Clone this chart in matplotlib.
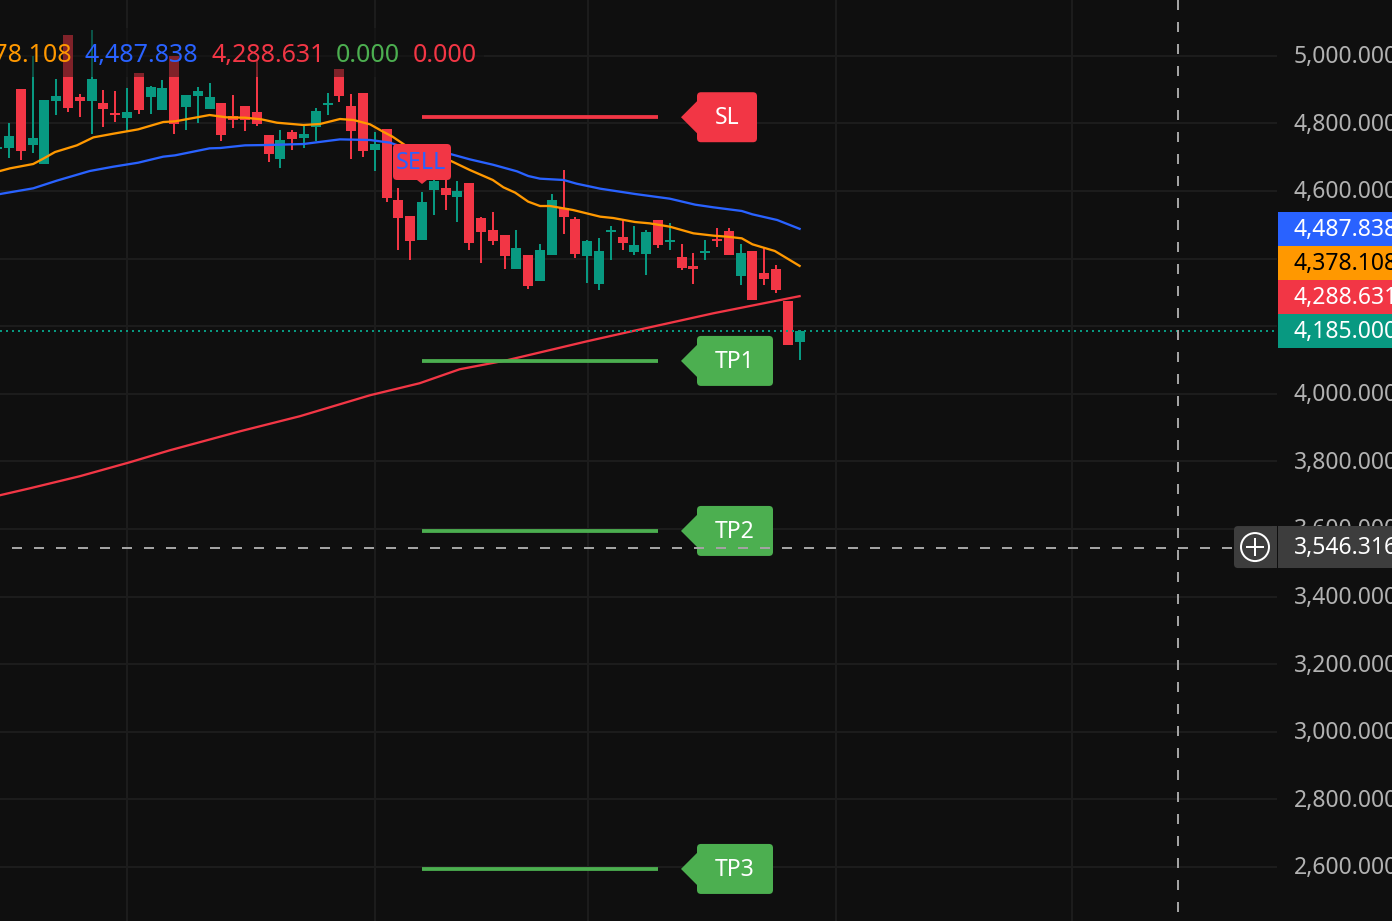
import numpy as np
import matplotlib
matplotlib.use("Agg")
import matplotlib.pyplot as plt
from matplotlib.patches import Rectangle, FancyBboxPatch, Polygon, Circle
from matplotlib.transforms import ScaledTranslation

plt.rcParams['font.family'] = ['Noto Sans', 'DejaVu Sans']

# ---------- data ----------
opens = [4725, 4727, 4901.5, 4735.8, 4679.6, 4866, 5061, 4877.8, 4866, 4860, 4830.5, 4815.7, 4948.8, 4877.8, 4839.3, 4999,
         4848.2, 4880.7, 4842.3, 4860, 4821.6, 4851.2, 4833.4, 4765.4, 4694.3, 4774.2, 4756.5, 4789, 4854, 4960.6, 4851.2,
         4889.6, 4721, 4783, 4573, 4525.8, 4454.8, 4602.7, 4608.6, 4582, 4623.4, 4519.8, 4484.3, 4469.5, 4369, 4410.4,
         4333.4, 4410.4, 4549.4, 4516.9, 4407.4, 4324.6, 4478.4, 4463.6, 4419.3, 4413.3, 4513.9, 4448.8, 4404.5, 4377.8,
         4416.3, 4457.7, 4481.4, 4348.2, 4422.2, 4357.1, 4369, 4274.3, 4153]
closes = [4730, 4762, 4718, 4756.5, 4869, 4881, 4845, 4866, 4931, 4842.3, 4824.5, 4833.4, 4839.3, 4907.4, 4904.4, 4797.9,
          4883.7, 4895.5, 4877.8, 4765.4, 4809.7, 4809.7, 4797.9, 4709.1, 4750.6, 4753.5, 4768.3, 4836.4, 4860, 4880.7, 4777.2,
          4718, 4738.7, 4579, 4519.9, 4451.8, 4567.2, 4629.3, 4587.9, 4599.7, 4445.9, 4478.4, 4451.8, 4407.4, 4431.1, 4318.7,
          4425.2, 4573, 4522.8, 4413.3, 4451.8, 4422.2, 4484.3, 4445.9, 4440, 4478.4, 4440, 4454.8, 4372, 4369,
          4422.2, 4451.8, 4410.4, 4416.3, 4277.2, 4339.4, 4306.8, 4144.1, 4185]
highs = [4730, 4801, 4902, 4999, 4869, 4931, 5061, 4886.7, 5076, 4898.5, 4895.6, 4904.4, 4949, 4910.3, 4928, 4999,
         4884, 4907.4, 4919.2, 4860, 4883.7, 4851, 4987.3, 4765, 4780.2, 4780, 4792, 4845.2, 4889.6, 4961, 4886.7,
         4890, 4774, 4783, 4608.6, 4526, 4596.8, 4647, 4632.3, 4629.3, 4623.4, 4522.8, 4537.6, 4470, 4484.3, 4410,
         4443, 4590.9, 4661.9, 4522.8, 4454.8, 4460.7, 4496.2, 4516.9, 4496.2, 4484.3, 4514, 4505, 4443, 4416.3,
         4454.8, 4490.3, 4490.3, 4443, 4422.2, 4431.1, 4380.8, 4274.3, 4189]
lows = [4725, 4697, 4691.4, 4712, 4680, 4824.5, 4833.4, 4818.6, 4768.3, 4789, 4803.8, 4777.2, 4827.5, 4827.5, 4839, 4768.3,
        4780.2, 4800.9, 4842, 4747.6, 4786.1, 4777.2, 4792, 4685.5, 4667.7, 4721, 4727, 4747.6, 4824.5, 4863, 4694.3,
        4700.3, 4658.8, 4567, 4425.2, 4395.6, 4455, 4528.7, 4543.5, 4508, 4425.2, 4386.7, 4440, 4369, 4369, 4309.8,
        4333, 4410, 4472.5, 4401.5, 4327.5, 4306.8, 4395.6, 4425.2, 4410.4, 4351.2, 4431.1, 4425.2, 4366, 4324.6,
        4395.6, 4434, 4410, 4321.6, 4277.2, 4321.6, 4298, 4144.1, 4099.7]
bar_index = np.arange(-1, len(opens) - 1)

ema_orange_x = [-0.76, 0.08, 2.05, 2.9, 3.9, 5.75, 7.15, 8.85, 10.95, 13.07, 14.07, 17, 18.45, 20, 21.4, 22.7, 24.95,
                26.35, 28.05, 29.2, 30.6, 31.7, 32.5, 33.55, 37.4, 39.05, 41, 41.9, 42.9, 44, 45, 45.85, 47.8, 50.1,
                51.2, 53.05, 54.3, 56, 58, 59.7, 60.85, 62.1, 63, 64.9, 67]
ema_orange_y = [4658.9, 4666.7, 4679.6, 4695.3, 4715, 4734.8, 4758.4, 4769.3, 4782.1, 4803.8, 4805.8, 4824.5, 4817.6,
                4816.6, 4811.7, 4801.8, 4795, 4797.9, 4812.7, 4809.7, 4796.9, 4775.2, 4760.5, 4735.8, 4689.5, 4661.9,
                4632.3, 4610.6, 4594.8, 4568.2, 4555.3, 4555.3, 4543.5, 4523.8, 4519.8, 4508, 4504, 4494.2, 4474.5,
                4467.6, 4464.6, 4459.7, 4442, 4422.2, 4378.1]
ema_blue_x = [-0.76, 2.05, 4.05, 6.85, 8.85, 10.95, 13.07, 14.07, 17, 17.9, 20, 21.85, 24.95, 28.05, 30.6, 32.3, 33.1,
              37.4, 39.05, 41, 43.05, 44, 45, 47, 48.1, 50.1, 53.05, 56, 58.15, 59.7, 62.1, 63, 65.1, 67]
ema_blue_y = [4590.8, 4607.6, 4630.3, 4658.9, 4671.7, 4683.5, 4701.3, 4705.2, 4725.9, 4726.9, 4734.8, 4735.8, 4738.7,
              4752.5, 4750.6, 4742.7, 4732.8, 4709.2, 4693.4, 4677.6, 4657.9, 4644.1, 4636.2, 4632.3, 4621.4, 4606.6,
              4590.9, 4577, 4559.3, 4551.4, 4540.6, 4530.7, 4513.9, 4487.8]
ema_red_x = [-0.76, 1.8, 6, 10.25, 13.65, 19.6, 24.65, 30.6, 34.8, 38.2, 42.2, 49, 52.4, 59.7, 67]
ema_red_y = [3699.7, 3720.4, 3755.9, 3797.3, 3832.8, 3889, 3933.4, 3995.5, 4031, 4072.4, 4099, 4155.2, 4181.8, 4238, 4288.6]

y_ticks = [2600, 2800, 3000, 3200, 3400, 3600, 3800, 4000, 4200, 4400, 4600, 4800, 5000]
x_grid = [10, 31, 49.07, 70.1, 90.1]
last_price = 4185.0
cross_price = 3546.316
cross_bar = 99.07

level_names = ['SL', 'TP1', 'TP2', 'TP3']
level_prices = [4818, 4097, 3594, 2594]
level_start, level_end = 35, 55

axis_labels = ['4,487.838', '4,378.108', '4,288.631', '4,185.000']
axis_label_pos = [4487.838, 4387.2, 4286.6, 4185.0]
legend_values = ['4,378.108', '4,487.838', '4,288.631', '0.000', '0.000']

# ---------- style ----------
BG = '#0f0f0f'
GRID = '#1c1c1c'
RED = '#f23645'
TEAL = '#089981'
ORANGE = '#ff9800'
BLUE = '#2962ff'
LGREEN = '#4caf50'
W, H = 1392, 921
PLOT_W = 1277
STEP = 11.8
X0 = 9.0
PX = 1.0 / 100 * 72  # points per pixel
YTOP, YBOT = 5164.8, 2440.0


def py(price):
    return (YTOP - price) / (YTOP - YBOT) * H


fig = plt.figure(figsize=(W / 100, H / 100), dpi=100, facecolor=BG)
ax = fig.add_axes([0, 0, PLOT_W / W, 1], facecolor=BG, zorder=1)
ax.set_xlim(-X0 / STEP, (PLOT_W - X0) / STEP)
ax.set_ylim(YBOT, YTOP)
for s in ax.spines.values():
    s.set_visible(False)

ax.yaxis.tick_right()
ax.set_yticks(y_ticks)
ax.set_yticklabels([f'{v:,.3f}' for v in y_ticks], fontsize=16.5, color='#b2b2b2')
ax.tick_params(axis='y', length=0, pad=17 * PX)
lift = ScaledTranslation(0, 1.5 / 100, fig.dpi_scale_trans)
for lbl in ax.get_yticklabels():
    lbl.set_transform(lbl.get_transform() + lift)
ax.set_xticks(x_grid)
ax.tick_params(axis='x', length=0, labelbottom=False)
ax.grid(True, color=GRID, lw=2 * PX, zorder=0)
ax.set_axisbelow(True)

opens_a, closes_a, highs_a, lows_a = map(np.array, (opens, closes, highs, lows))
colors = [TEAL if c >= o else RED for o, c in zip(opens_a, closes_a)]
ax.vlines(bar_index, lows_a, highs_a, colors=colors, lw=2 * PX, zorder=3)
ax.bar(bar_index, np.abs(closes_a - opens_a), bottom=np.minimum(opens_a, closes_a),
       width=10 / STEP, color=colors, linewidth=0, zorder=3)

LINE_W = 2.3 * PX
ax.plot(ema_red_x, ema_red_y, color=RED, lw=LINE_W, zorder=4, solid_joinstyle='round')
ax.plot(ema_orange_x, ema_orange_y, color=ORANGE, lw=LINE_W, zorder=4, solid_joinstyle='round')
ax.plot(ema_blue_x, ema_blue_y, color=BLUE, lw=LINE_W, zorder=4, solid_joinstyle='round')

ax.axhline(last_price, color=TEAL, lw=2 * PX, dashes=(1, 2.0), zorder=4)

for name, p in zip(level_names, level_prices):
    ax.plot([level_start, level_end], [p, p], color=RED if name == 'SL' else LGREEN,
            lw=3.8 * PX, solid_capstyle='butt', zorder=5)

# ---------- pixel overlay ----------
ov = fig.add_axes([0, 0, 1, 1], facecolor='none', zorder=2)
ov.set_xlim(0, W)
ov.set_ylim(H, 0)
ov.axis('off')

# legend backdrop + values
ov.add_patch(Rectangle((0, 28), 484, 49, facecolor=BG, alpha=0.5, edgecolor='none', zorder=1))
legend_colors = [ORANGE, BLUE, RED, LGREEN, RED]
legend_right = [72, 198, 325, 400, 477]
for txt, c, xr in zip(legend_values, legend_colors, legend_right):
    ov.text(xr, 55.5, txt, color=c, fontsize=18, ha='right', va='center', zorder=2)

# price tags
for name, p in zip(level_names, level_prices):
    c = RED if name == 'SL' else LGREEN
    yc = py(p)
    right = 757 if name == 'SL' else 773
    ov.add_patch(FancyBboxPatch((701, yc - 21), right - 705, 42, boxstyle='round,pad=4,rounding_size=4',
                                facecolor=c, edgecolor='none', zorder=7))
    ov.add_patch(Polygon([(681, yc), (698, yc - 17), (698, yc + 17)], closed=True, facecolor=c,
                         edgecolor='none', zorder=7))
    ov.text((697 + right) / 2, yc + 1, name, color='white', fontsize=16.5, fontweight=500,
            ha='center', va='center', zorder=8)

# SELL marker
ov.add_patch(FancyBboxPatch((396, 147), 52, 30, boxstyle='round,pad=3,rounding_size=4',
                            facecolor=RED, edgecolor='none', zorder=7))
ov.add_patch(Polygon([(417, 180), (427, 180), (422, 184)], closed=True, facecolor=RED, edgecolor='none', zorder=7))
ov.text(421, 163, 'SELL', color=BLUE, fontsize=16.8, ha='center', va='center', zorder=8)

# crosshair (above the tags, below the axis boxes)
cross_color = '#a3a3a3'
cross_px_x = X0 + STEP * cross_bar
yc = py(cross_price)
ov.plot([0, PLOT_W], [yc + 0.7, yc + 0.7], color=cross_color, lw=2 * PX, linestyle=(5, (5, 6)), zorder=9)
ov.plot([cross_px_x, cross_px_x], [H, 0], color=cross_color, lw=2 * PX, linestyle=(6.5, (5, 6)), zorder=9)

# axis value boxes
box_colors = [BLUE, ORANGE, RED, TEAL]
text_colors = ['white', 'black', 'white', 'white']
for txt, p, c, tc in zip(axis_labels, axis_label_pos, box_colors, text_colors):
    y = py(p)
    ov.add_patch(Rectangle((1278, y - 17), W - 1278, 34, facecolor=c, edgecolor='none', zorder=10))
    ov.text(1294, y + 1, txt, color=tc, fontsize=16.5, fontweight=500, ha='left', va='center', zorder=11)

# crosshair label and plus button
ov.add_patch(Rectangle((1278, yc - 21), W - 1278, 42, facecolor='#3d3d3d', edgecolor='none', zorder=10))
ov.text(1294, yc + 1, f'{cross_price:,.3f}', color='white', fontsize=16.5, fontweight=500,
        ha='left', va='center', zorder=11)
ov.add_patch(FancyBboxPatch((1238, yc - 17), 34, 34, boxstyle='round,pad=4,rounding_size=4',
                            facecolor='#3d3d3d', edgecolor='none', zorder=10))
ov.add_patch(Rectangle((1272, yc - 21), 5, 42, facecolor='#3d3d3d', edgecolor='none', zorder=10))
ov.add_patch(Circle((1255, yc), 14, facecolor='none', edgecolor='white', lw=2 * PX, zorder=11))
ov.plot([1247, 1263], [yc, yc], color='white', lw=2 * PX, zorder=11)
ov.plot([1255, 1255], [yc - 8, yc + 8], color='white', lw=2 * PX, zorder=11)

fig.savefig('out.png', dpi=100, facecolor=BG)
